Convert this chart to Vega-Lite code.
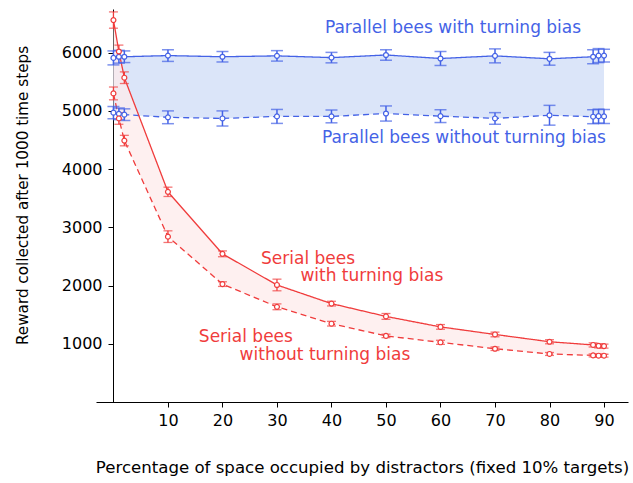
{
  "$schema": "https://vega.github.io/schema/vega-lite/v6.json",
  "width": 532,
  "height": 393,
  "autosize": {"type": "none"},
  "padding": {"left": 96, "top": 9, "right": 5, "bottom": 81},
  "background": "white",
  "config": {
    "view": {"stroke": null},
    "font": "DejaVu Sans",
    "axis": {
      "labelFont": "DejaVu Sans", "titleFont": "DejaVu Sans",
      "labelFontSize": 16, "titleFontSize": 16, "titleFontWeight": "normal",
      "labelColor": "black", "titleColor": "black",
      "domainColor": "black", "tickColor": "black", "grid": false
    }
  },
  "datasets": {
    "series": [
      {"x": 0, "group": "Parallel", "bias": "with", "mean": 5910, "err": 120},
      {"x": 1, "group": "Parallel", "bias": "with", "mean": 5930, "err": 110},
      {"x": 2, "group": "Parallel", "bias": "with", "mean": 5930, "err": 100},
      {"x": 10, "group": "Parallel", "bias": "with", "mean": 5950, "err": 100},
      {"x": 20, "group": "Parallel", "bias": "with", "mean": 5930, "err": 90},
      {"x": 30, "group": "Parallel", "bias": "with", "mean": 5945, "err": 90},
      {"x": 40, "group": "Parallel", "bias": "with", "mean": 5915, "err": 90},
      {"x": 50, "group": "Parallel", "bias": "with", "mean": 5960, "err": 90},
      {"x": 60, "group": "Parallel", "bias": "with", "mean": 5900, "err": 120},
      {"x": 70, "group": "Parallel", "bias": "with", "mean": 5945, "err": 120},
      {"x": 80, "group": "Parallel", "bias": "with", "mean": 5895, "err": 110},
      {"x": 88, "group": "Parallel", "bias": "with", "mean": 5930, "err": 120},
      {"x": 89, "group": "Parallel", "bias": "with", "mean": 5950, "err": 120},
      {"x": 90, "group": "Parallel", "bias": "with", "mean": 5950, "err": 110},
      {"x": 0, "group": "Parallel", "bias": "without", "mean": 4970, "err": 105},
      {"x": 1, "group": "Parallel", "bias": "without", "mean": 4950, "err": 100},
      {"x": 2, "group": "Parallel", "bias": "without", "mean": 4935, "err": 100},
      {"x": 10, "group": "Parallel", "bias": "without", "mean": 4890, "err": 110},
      {"x": 20, "group": "Parallel", "bias": "without", "mean": 4870, "err": 130},
      {"x": 30, "group": "Parallel", "bias": "without", "mean": 4905, "err": 120},
      {"x": 40, "group": "Parallel", "bias": "without", "mean": 4905, "err": 110},
      {"x": 50, "group": "Parallel", "bias": "without", "mean": 4955, "err": 130},
      {"x": 60, "group": "Parallel", "bias": "without", "mean": 4910, "err": 110},
      {"x": 70, "group": "Parallel", "bias": "without", "mean": 4870, "err": 100},
      {"x": 80, "group": "Parallel", "bias": "without", "mean": 4925, "err": 170},
      {"x": 88, "group": "Parallel", "bias": "without", "mean": 4900, "err": 120},
      {"x": 89, "group": "Parallel", "bias": "without", "mean": 4910, "err": 120},
      {"x": 90, "group": "Parallel", "bias": "without", "mean": 4905, "err": 120},
      {"x": 0, "group": "Serial", "bias": "with", "mean": 6560, "err": 140},
      {"x": 1, "group": "Serial", "bias": "with", "mean": 6020, "err": 110},
      {"x": 2, "group": "Serial", "bias": "with", "mean": 5570, "err": 100},
      {"x": 10, "group": "Serial", "bias": "with", "mean": 3610, "err": 80},
      {"x": 20, "group": "Serial", "bias": "with", "mean": 2545, "err": 50},
      {"x": 30, "group": "Serial", "bias": "with", "mean": 2010, "err": 100},
      {"x": 40, "group": "Serial", "bias": "with", "mean": 1690, "err": 40},
      {"x": 50, "group": "Serial", "bias": "with", "mean": 1470, "err": 50},
      {"x": 60, "group": "Serial", "bias": "with", "mean": 1290, "err": 40},
      {"x": 70, "group": "Serial", "bias": "with", "mean": 1160, "err": 40},
      {"x": 80, "group": "Serial", "bias": "with", "mean": 1035, "err": 35},
      {"x": 88, "group": "Serial", "bias": "with", "mean": 980, "err": 35},
      {"x": 89, "group": "Serial", "bias": "with", "mean": 965, "err": 35},
      {"x": 90, "group": "Serial", "bias": "with", "mean": 960, "err": 35},
      {"x": 0, "group": "Serial", "bias": "without", "mean": 5300, "err": 110},
      {"x": 1, "group": "Serial", "bias": "without", "mean": 4870, "err": 100},
      {"x": 2, "group": "Serial", "bias": "without", "mean": 4490, "err": 90},
      {"x": 10, "group": "Serial", "bias": "without", "mean": 2840, "err": 100},
      {"x": 20, "group": "Serial", "bias": "without", "mean": 2025, "err": 40},
      {"x": 30, "group": "Serial", "bias": "without", "mean": 1635, "err": 50},
      {"x": 40, "group": "Serial", "bias": "without", "mean": 1345, "err": 40},
      {"x": 50, "group": "Serial", "bias": "without", "mean": 1135, "err": 30},
      {"x": 60, "group": "Serial", "bias": "without", "mean": 1025, "err": 35},
      {"x": 70, "group": "Serial", "bias": "without", "mean": 915, "err": 30},
      {"x": 80, "group": "Serial", "bias": "without", "mean": 825, "err": 25},
      {"x": 88, "group": "Serial", "bias": "without", "mean": 800, "err": 25},
      {"x": 89, "group": "Serial", "bias": "without", "mean": 795, "err": 25},
      {"x": 90, "group": "Serial", "bias": "without", "mean": 795, "err": 25}
    ],
    "labels": [
      {"x": 62.3, "y": 6430, "group": "Parallel", "text": "Parallel bees with turning bias"},
      {"x": 64.3, "y": 4540, "group": "Parallel", "text": "Parallel bees without turning bias"},
      {"x": 35.7, "y": 2460, "group": "Serial", "text": "Serial bees"},
      {"x": 47.4, "y": 2170, "group": "Serial", "text": "with turning bias"},
      {"x": 24.3, "y": 1120, "group": "Serial", "text": "Serial bees"},
      {"x": 38.8, "y": 810, "group": "Serial", "text": "without turning bias"}
    ]
  },
  "data": {"name": "series"},
  "encoding": {
    "x": {
      "field": "x", "type": "quantitative",
      "scale": {"domain": [-3.2, 94.4], "nice": false, "zero": false},
      "axis": {
        "values": [10, 20, 30, 40, 50, 60, 70, 80, 90],
        "tickSize": 5, "labelPadding": 5,
        "title": "Percentage of space occupied by distractors (fixed 10% targets)",
        "titleFontSize": 16.6,
        "titlePadding": 31
      }
    }
  },
  "layer": [
    {
      "transform": [{"pivot": "bias", "value": "mean", "groupby": ["group", "x"]}],
      "mark": {"type": "area", "opacity": 1},
      "encoding": {
        "y": {"field": "with", "type": "quantitative", "title": "Reward collected after 1000 time steps"},
        "y2": {"field": "without"},
        "fill": {
          "field": "group", "type": "nominal", "legend": null,
          "scale": {"domain": ["Parallel", "Serial"], "range": ["#dbe5f9", "#fdebeb"]}
        },
        "fillOpacity": {
          "field": "group", "type": "nominal", "legend": null,
          "scale": {"domain": ["Parallel", "Serial"], "range": [1, 0.75]}
        }
      }
    },
    {
      "mark": {"type": "line", "strokeWidth": 1.3},
      "encoding": {
        "y": {
          "field": "mean", "type": "quantitative",
          "title": "Reward collected after 1000 time steps",
          "scale": {"domain": [0, 6750], "nice": false},
          "axis": {
            "values": [1000, 2000, 3000, 4000, 5000, 6000],
            "format": "d",
            "offset": -17, "tickSize": 5, "labelPadding": 6,
            "titleFontSize": 15.2,
            "titlePadding": 31, "titleY": 186
          }
        },
        "color": {
          "field": "group", "type": "nominal", "legend": null,
          "scale": {"domain": ["Parallel", "Serial"], "range": ["#4462e6", "#f03c3c"]}
        },
        "strokeDash": {
          "field": "bias", "type": "nominal", "legend": null,
          "scale": {"domain": ["with", "without"], "range": [[1, 0], [6, 4]]}
        },
        "detail": {"field": "bias"}
      }
    },
    {
      "transform": [{"filter": "datum.group === 'Parallel'"}],
      "mark": {"type": "errorbar", "ticks": {"size": 12, "strokeWidth": 2}, "color": "#4462e6", "thickness": 1.5},
      "encoding": {
        "y": {"field": "mean", "type": "quantitative", "title": "Reward collected after 1000 time steps"},
        "yError": {"field": "err"}
      }
    },
    {
      "transform": [{"filter": "datum.group === 'Serial'"}],
      "mark": {"type": "errorbar", "ticks": {"size": 9, "strokeWidth": 1.5}, "color": "#f03c3c", "thickness": 1.3},
      "encoding": {
        "y": {"field": "mean", "type": "quantitative", "title": "Reward collected after 1000 time steps"},
        "yError": {"field": "err"}
      }
    },
    {
      "mark": {"type": "point", "shape": "circle", "filled": false, "fill": "white", "size": 24, "strokeWidth": 1.2, "opacity": 1},
      "encoding": {
        "y": {"field": "mean", "type": "quantitative", "title": "Reward collected after 1000 time steps"},
        "color": {"field": "group", "type": "nominal", "legend": null}
      }
    },
    {
      "data": {"name": "labels"},
      "mark": {"type": "text", "align": "center", "baseline": "middle", "fontSize": 17, "font": "DejaVu Sans"},
      "encoding": {
        "y": {"field": "y", "type": "quantitative", "title": "Reward collected after 1000 time steps"},
        "text": {"field": "text"},
        "color": {"field": "group", "type": "nominal", "legend": null}
      }
    }
  ]
}
